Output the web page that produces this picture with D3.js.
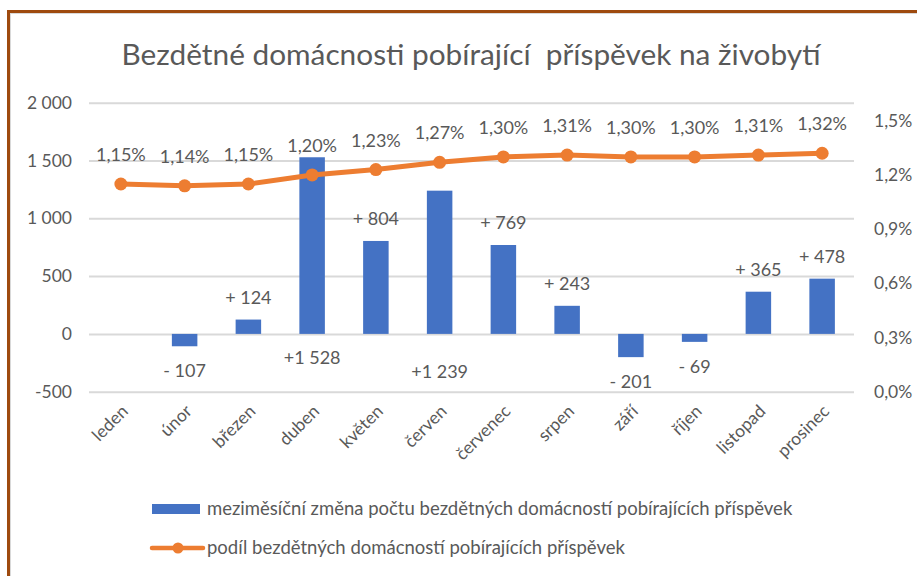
<!DOCTYPE html>
<html>
<head>
<meta charset="utf-8">
<script src="https://cdn.jsdelivr.net/npm/d3@7"></script>
<style>
body { margin: 0; background: #fff; }
text { font-family: Lato, "Open Sans", sans-serif; fill: #595959; }
</style>
</head>
<body>
<div id="chart"></div>
<script>
var months = ["leden", "únor", "březen", "duben", "květen", "červen", "červenec", "srpen", "září", "říjen", "listopad", "prosinec"]
var change = [0, -107, 124, 1528, 804, 1239, 769, 243, -201, -69, 365, 478]
var share = [1.15, 1.14, 1.15, 1.20, 1.23, 1.27, 1.30, 1.31, 1.30, 1.30, 1.31, 1.32]
var leftTicks = [-500, 0, 500, 1000, 1500, 2000]
var rightTicks = [0, 0.3, 0.6, 0.9, 1.2, 1.5]
var title = "Bezdětné domácnosti pobírající  příspěvek na živobytí"
var barName = "meziměsíční změna počtu bezdětných domácností pobírajících příspěvek"
var lineName = "podíl bezdětných domácností pobírajících příspěvek"

var blue = "#4472C4", orange = "#ED7D31"

var svg = d3.select("#chart")
    .append("svg")
    .attr("width", 917)
    .attr("height", 576)

// frame
svg.append("rect")
    .attr("x", 10.5).attr("y", 13.5)
    .attr("width", 950).attr("height", 600)
    .attr("fill", "none").attr("stroke", "#d9d9d9").attr("stroke-width", 1)
svg.append("rect")
    .attr("x", 8.5).attr("y", 11.5)
    .attr("width", 950).attr("height", 600)
    .attr("fill", "none").attr("stroke", "#9E4A0E").attr("stroke-width", 3)

svg.append("text")
    .attr("x", 471).attr("y", 65)
    .attr("text-anchor", "middle")
    .style("font-size", "29.8px")
    .attr("xml:space", "preserve")
    .text(title)

var x = d3.scaleBand()
    .domain(months)
    .range([89, 854])
    .paddingInner(0.6)
    .paddingOuter(0.3)
var yL = d3.scaleLinear().domain([-500, 2000]).range([391.7, 102.7])
var yR = d3.scaleLinear().domain([0, 1.6]).range([391.7, 102.7])

var nf = d3.formatLocale({ decimal: ",", thousands: " ", grouping: [3], currency: ["", " Kč"], minus: "-" })
var fmtInt = nf.format(",d")
var fmtPct = nf.format(".2f")
var fmtAxR = nf.format(".1f")

// left axis + grid
svg.append("g")
    .attr("transform", "translate(89,0)")
    .call(d3.axisLeft(yL).tickValues(leftTicks).tickSize(-765).tickFormat(fmtInt))
    .call(g => {
        g.select(".domain").remove()
        g.selectAll("line").attr("stroke", "#d9d9d9").attr("stroke-width", 2)
        g.selectAll("text").attr("x", -17).attr("fill", "#595959")
            .style("font-size", "17.5px").style("font-family", "Lato")
    })

// right axis
svg.append("g")
    .attr("transform", "translate(854,0)")
    .call(d3.axisRight(yR).tickValues(rightTicks).tickSize(0).tickFormat(d => fmtAxR(d) + "%"))
    .call(g => {
        g.select(".domain").remove()
        g.selectAll("text").attr("x", 20).attr("fill", "#595959")
            .style("font-size", "17.5px").style("font-family", "Lato")
    })

var rows = months.map((m, i) => ({ month: m, change: change[i], share: share[i] }))
var cx = d => x(d.month) + x.bandwidth() / 2

// bars
svg.append("g").selectAll("rect")
    .data(rows)
    .enter().append("rect")
    .attr("x", d => x(d.month))
    .attr("width", x.bandwidth())
    .attr("y", d => yL(Math.max(0, d.change)))
    .attr("height", d => Math.abs(yL(d.change) - yL(0)))
    .attr("fill", blue)

// bar labels (the two tall bars carry their label under the zero line)
var below = { "duben": 30, "červen": 44 }
svg.append("g").selectAll("text")
    .data(rows.filter(d => d.change !== 0))
    .enter().append("text")
    .attr("x", cx)
    .attr("y", d => {
        if (below[d.month]) return yL(0) + below[d.month]
        return d.change > 0 ? yL(d.change) - 16 : yL(d.change) + 31
    })
    .attr("text-anchor", "middle")
    .style("font-size", "18px")
    .text(d => {
        var v = d.change
        return v < 0 ? "- " + fmtInt(-v) : (v >= 1000 ? "+" : "+ ") + fmtInt(v)
    })

// line
svg.append("path")
    .datum(rows)
    .attr("fill", "none")
    .attr("stroke", orange)
    .attr("stroke-width", 5)
    .attr("stroke-linejoin", "round")
    .attr("d", d3.line().x(cx).y(d => yR(d.share)))

svg.append("g").selectAll("circle")
    .data(rows)
    .enter().append("circle")
    .attr("cx", cx)
    .attr("cy", d => yR(d.share))
    .attr("r", 6.5)
    .attr("fill", orange)

svg.append("g").selectAll("text")
    .data(rows)
    .enter().append("text")
    .attr("x", cx)
    .attr("y", d => yR(d.share) - 23)
    .attr("text-anchor", "middle")
    .style("font-size", "18px")
    .text(d => fmtPct(d.share) + "%")

// category labels
svg.append("g").selectAll("text")
    .data(months)
    .enter().append("text")
    .attr("transform", d => "translate(" + (x(d) + x.bandwidth() / 2 + 4) + ",408) rotate(-45)")
    .attr("text-anchor", "end")
    .attr("dy", "0.35em")
    .style("font-size", "17.5px")
    .text(d => d)

// legend
var lg = svg.append("g")
lg.append("rect")
    .attr("x", 152).attr("y", 504)
    .attr("width", 48).attr("height", 10)
    .attr("fill", blue)
lg.append("text")
    .attr("x", 207).attr("y", 509).attr("dy", "0.35em")
    .style("font-size", "18.5px")
    .text(barName)
lg.append("line")
    .attr("x1", 152).attr("x2", 203)
    .attr("y1", 548).attr("y2", 548)
    .attr("stroke", orange).attr("stroke-width", 4.5).attr("stroke-linecap", "round")
lg.append("circle")
    .attr("cx", 178).attr("cy", 548).attr("r", 5.5)
    .attr("fill", orange)
lg.append("text")
    .attr("x", 207).attr("y", 548).attr("dy", "0.35em")
    .style("font-size", "18.5px")
    .text(lineName)
</script>
</body>
</html>
